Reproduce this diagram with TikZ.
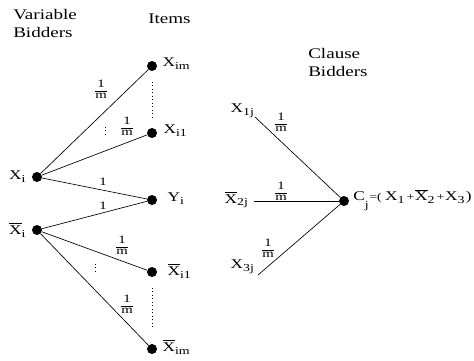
\documentclass[tikz,border=0pt]{standalone}
\usepackage{fontspec}
\setmainfont{Liberation Serif}[FakeStretch=1.3]
\newcommand{\lbar}[1]{$\overline{\mbox{#1}}$}
\newcommand{\lsb}[1]{\raisebox{-0.45ex}{\fontsize{8}{8}\selectfont #1}}
\newcommand{\fr}{{\setlength{\tabcolsep}{0pt}\renewcommand{\arraystretch}{0.85}\begin{tabular}{c}1\\\hline m\end{tabular}}}
\newcommand{\smlsz}{\fontsize{8}{9}\selectfont}
\newcommand{\bigsz}{\fontsize{10}{11}\selectfont}
\begin{document}
\begin{tikzpicture}[x=0.75pt,y=-0.75pt,
  dot/.style={circle,fill=black,inner sep=0pt,minimum size=7.5pt},
  lab/.style={font=\fontsize{10}{11}\selectfont,inner sep=1pt},
  wt/.style={font=\fontsize{8.5}{9}\selectfont,inner sep=0pt},
  head/.style={font=\fontsize{11}{13.5}\selectfont,align=left,inner sep=0pt},
  edge/.style={line width=0.5pt},
  dotted line/.style={dotted,line width=0.6pt}]
\useasboundingbox (0,0) rectangle (474,360);
% headings
\node[head,anchor=north west] (hv) at (13,9) {Variable\\Bidders};
\node[head,anchor=north west] (hi) at (148,14) {Items};
\node[head,anchor=north west] (hc) at (308,48) {Clause\\Bidders};
% dots
\node[dot] (xi) at (37,177) {};
\node[dot] (xbi) at (37,230) {};
\node[dot] (xim) at (152,66) {};
\node[dot] (xi1) at (152,133) {};
\node[dot] (yi) at (152,200) {};
\node[dot] (xbi1) at (152,272) {};
\node[dot] (xbim) at (152,349) {};
\node[dot] (cj) at (344,201) {};
% labels
\node[lab,anchor=east] (lxi) at (27,177) {X\lsb{i}};
\node[lab,anchor=east] (lxbi) at (27,230) {\lbar{X}\lsb{i}};
\node[lab,anchor=west] (lxim) at (161,64) {X\lsb{im}};
\node[lab,anchor=west] (lxi1) at (162,131) {X\lsb{i1}};
\node[lab,anchor=west] (lyi) at (166,199) {Y\lsb{i}};
\node[lab,anchor=west] (lxbi1) at (166,271) {\lbar{X}\lsb{i1}};
\node[lab,anchor=west] (lxbim) at (161,347) {\lbar{X}\lsb{im}};
\node[lab,anchor=west] (lx1) at (229,111) {X\lsb{1j}};
\node[lab,anchor=west] (lx2) at (223,200) {\lbar{X}\lsb{2j}};
\node[lab,anchor=west] (lx3) at (229,267) {X\lsb{3j}};
\node[lab,anchor=west,inner sep=0pt] (lcj) at (353,200) {C\raisebox{-1.3ex}{\smlsz j}\hspace{0.5pt}\smlsz=(\hspace{2.5pt}\bigsz X\lsb{1}\hspace{1.5pt}\smlsz+\hspace{0.5pt}\bigsz\lbar{X}\lsb{2}\hspace{1.5pt}\smlsz+\hspace{0.5pt}\bigsz X\lsb{3}\hspace{1pt})};
% line starts on right
\coordinate (s1) at (255,117);
\coordinate (s2) at (254,201);
\coordinate (s3) at (258,275);
% edges
\draw[edge] (xi) -- (xim);
\draw[edge] (xi) -- (xi1);
\draw[edge] (xi) -- (yi);
\draw[edge] (xbi) -- (yi);
\draw[edge] (xbi) -- (xbi1);
\draw[edge] (xbi) -- (xbim);
\draw[edge] (s1) -- (cj);
\draw[edge] (s2) -- (cj);
\draw[edge] (s3) -- (cj);
% dotted vertical lines
\coordinate (d1a) at (152,82); \coordinate (d1b) at (152,118);
\coordinate (d2a) at (152,288); \coordinate (d2b) at (152,328);
\coordinate (d3a) at (105,127); \coordinate (d3b) at (105,135);
\coordinate (d4a) at (95,264); \coordinate (d4b) at (95,272);
\draw[dotted line] (d1a) -- (d1b);
\draw[dotted line] (d2a) -- (d2b);
\draw[dotted line] (d3a) -- (d3b);
\draw[dotted line] (d4a) -- (d4b);
% weights
\node[wt] (w1) at (101,91) {\fr};
\node[wt] (w2) at (127,128) {\fr};
\node[wt] (w3) at (103,182) {1};
\node[wt] (w4) at (103,206) {1};
\node[wt] (w5) at (122,247) {\fr};
\node[wt] (w6) at (127,306) {\fr};
\node[wt] (w7) at (281,124) {\fr};
\node[wt] (w8) at (281,193) {\fr};
\node[wt] (w9) at (268,250) {\fr};
\end{tikzpicture}
\end{document}
